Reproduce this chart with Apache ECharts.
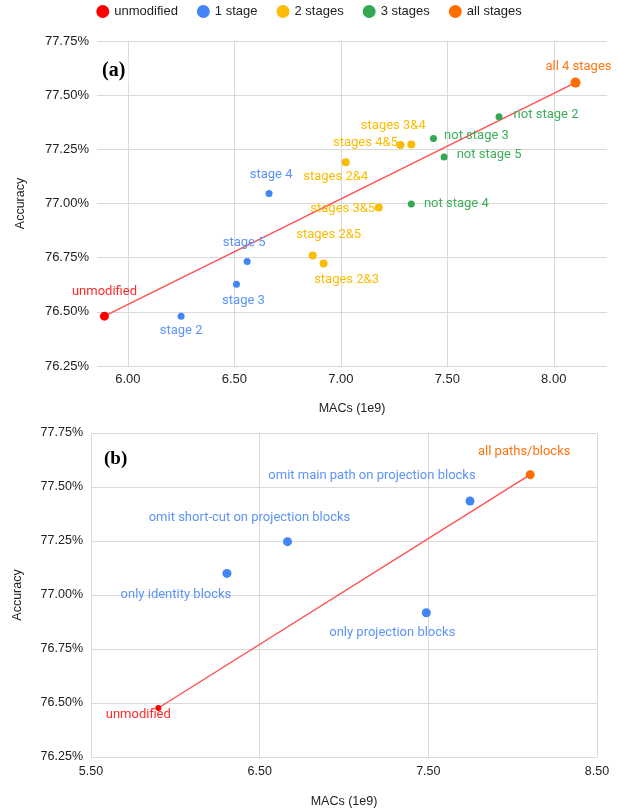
<!DOCTYPE html>
<html>
<head>
<meta charset="utf-8">
<script src="https://cdn.jsdelivr.net/npm/echarts@6/dist/echarts.min.js"></script>
<style>html,body{margin:0;padding:0;background:#fff}#c{width:618px;height:809px}</style>
</head>
<body>
<div id="c"></div>
<script>
// ---------- data ----------
const legendNames = ['unmodified', '1 stage', '2 stages', '3 stages', 'all stages'];

// Panel (a)
const pointNamesA = ['unmodified', 'stage 2', 'stage 3', 'stage 5', 'stage 4',
  'stages 2&5', 'stages 2&3', 'stages 3&5', 'stages 2&4', 'stages 4&5', 'stages 3&4',
  'not stage 4', 'not stage 3', 'not stage 5', 'not stage 2', 'all 4 stages'];
const macsA = [5.89, 6.25, 6.51, 6.56, 6.663, 6.868, 6.919, 7.178, 7.023, 7.28, 7.331, 7.331, 7.435, 7.485, 7.743, 8.102];
const accA  = [76.48, 76.48, 76.627, 76.732, 77.046, 76.76, 76.723, 76.981, 77.19, 77.27, 77.272, 76.998, 77.30, 77.215, 77.40, 77.558];
const groupA = [0, 1, 1, 1, 1, 2, 2, 2, 2, 2, 2, 3, 3, 3, 3, 4];

// Panel (b)
const pointNamesB = ['unmodified', 'only identity blocks', 'omit short-cut on projection blocks',
  'omit main path on projection blocks', 'only projection blocks', 'all paths/blocks'];
const macsB = [5.899, 6.306, 6.665, 7.747, 7.488, 8.104];
const accB  = [76.477, 77.10, 77.247, 77.435, 76.918, 77.557];
const groupB = [0, 1, 1, 1, 1, 4];

// tick labels
const xTicksA = [6.00, 6.50, 7.00, 7.50, 8.00];
const xTicksB = [5.50, 6.50, 7.50, 8.50];
const yTicks = [76.25, 76.50, 76.75, 77.00, 77.25, 77.50, 77.75];

// ---------- style ----------
const dotColors = ['#ff0000', '#4285f4', '#fbbc04', '#34a853', '#ff6d01'];
const textColors = ['#ff2a2a', '#5c94f6', '#fbbc04', '#3fae5a', '#ff7410'];
const labelOffsetA = [[0,-24],[0,15],[7,16],[-3,-19],[2,-19],[16,-21],[23,16],[-36,1],[-10,14],[-35,-2],[-18,-19],[45,0],[43,-3],[45,-2],[47,-2],[3,-16]];
const labelOffsetB = [[-20,7],[-51,21],[-38,-24],[-98,-25],[-34,20],[-6,-23]];
const sizeAByGroup = [9, 7, 8, 7, 10];
const sizeBByGroup = [6, 9, 9, 9, 9];

const axisFont = 'Liberation Sans, Arial, sans-serif';
const labelFont = 'Roboto, sans-serif';

function buildSeries(names, xs, ys, groups, offsets, sizes, axisIdx) {
  const out = [];
  const groupsPresent = [...new Set(groups)];
  // trend line between first (unmodified) and last (all) point
  out.push({
    type: 'line', xAxisIndex: axisIdx, yAxisIndex: axisIdx, silent: true,
    symbol: 'none', z: 1,
    lineStyle: { color: '#ff4f4f', width: 1.4 },
    data: [[xs[0], ys[0]], [xs[xs.length - 1], ys[ys.length - 1]]]
  });
  groupsPresent.forEach(g => {
    const data = [];
    names.forEach((n, i) => {
      if (groups[i] !== g) return;
      data.push({ name: n, value: [xs[i], ys[i]], label: { offset: offsets[i] } });
    });
    out.push({
      type: 'scatter', name: legendNames[g], xAxisIndex: axisIdx, yAxisIndex: axisIdx, z: 3,
      symbolSize: sizes[g],
      itemStyle: { color: dotColors[g], opacity: 1 },
      label: {
        show: true, position: 'inside', formatter: '{b}',
        color: textColors[g], fontFamily: labelFont, fontSize: 13
      },
      emphasis: { disabled: true },
      data: data
    });
  });
  return out;
}

const series = [].concat(
  buildSeries(pointNamesA, macsA, accA, groupA, labelOffsetA, sizeAByGroup, 0),
  buildSeries(pointNamesB, macsB, accB, groupB, labelOffsetB, sizeBByGroup, 1)
);

const gridLine = { show: true, lineStyle: { color: '#dadada', width: 1 } };
function yAxis(gridIndex, gap, fs) {
  return {
    type: 'value', gridIndex: gridIndex, min: 76.25, max: 77.75, interval: 0.25,
    name: 'Accuracy', nameLocation: 'middle', nameGap: gap,
    nameTextStyle: { fontFamily: axisFont, fontSize: 12.5, color: '#222' },
    axisLine: { show: false }, axisTick: { show: false },
    splitLine: gridLine,
    axisLabel: { fontFamily: axisFont, fontSize: fs, color: '#222', margin: 8,
      customValues: yTicks, formatter: v => v.toFixed(2) + '%' }
  };
}

const option = {
  animation: false,
  backgroundColor: '#fff',
  legend: {
    top: 0, left: 'center', icon: 'circle', itemWidth: 13, itemHeight: 13, itemGap: 19,
    textStyle: { fontFamily: axisFont, fontSize: 13, color: '#222' },
    data: legendNames
  },
  title: [
    { text: '(a)', left: 99, top: 59, padding: [2, 3],
      backgroundColor: '#fff',
      textStyle: { fontFamily: 'Liberation Serif, Times New Roman, serif', fontWeight: 'bold', fontSize: 20, color: '#000' } },
    { text: '(b)', left: 102, top: 449, padding: [1, 2],
      backgroundColor: '#fff',
      textStyle: { fontFamily: 'Liberation Serif, Times New Roman, serif', fontWeight: 'bold', fontSize: 19, color: '#000' } }
  ],
  grid: [
    { left: 97, top: 41, width: 510, height: 325 },
    { left: 91, top: 433, width: 506, height: 324 }
  ],
  xAxis: [
    {
      type: 'value', gridIndex: 0, min: 5.855, max: 8.25,
      name: 'MACs (1e9)', nameLocation: 'middle', nameGap: 36,
      nameTextStyle: { fontFamily: axisFont, fontSize: 12.5, color: '#222' },
      axisLine: { show: false },
      axisTick: { show: false, customValues: xTicksA },
      splitLine: gridLine,
      axisLabel: { fontFamily: axisFont, fontSize: 13, color: '#222', margin: 7,
        customValues: xTicksA, formatter: v => v.toFixed(2) }
    },
    {
      type: 'value', gridIndex: 1, min: 5.5, max: 8.5, interval: 1,
      name: 'MACs (1e9)', nameLocation: 'middle', nameGap: 38,
      nameTextStyle: { fontFamily: axisFont, fontSize: 12.5, color: '#222' },
      axisLine: { show: false }, axisTick: { show: false },
      splitLine: gridLine,
      axisLabel: { fontFamily: axisFont, fontSize: 12.5, color: '#222', margin: 8,
        showMinLabel: true, showMaxLabel: true, formatter: v => v.toFixed(2) }
    }
  ],
  yAxis: [yAxis(0, 70, 13), yAxis(1, 67, 12.5)],
  series: series
};

const chart = echarts.init(document.getElementById('c'), null, { renderer: 'canvas' });
chart.setOption(option);
</script>
</body>
</html>
